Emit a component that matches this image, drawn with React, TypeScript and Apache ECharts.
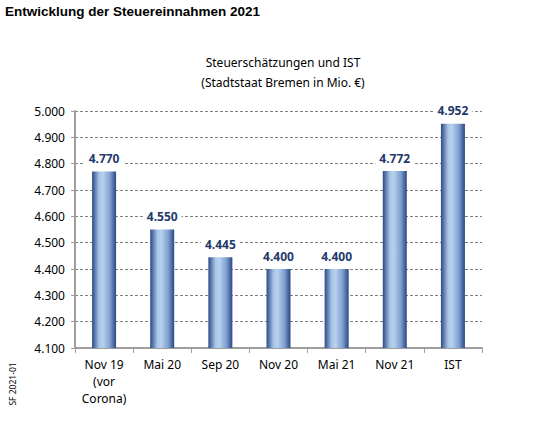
import React, { useEffect, useRef } from "react";
import * as echarts from "echarts";

const categories = ["Nov 19\n(vor\nCorona)", "Mai 20", "Sep 20", "Nov 20", "Mai 21", "Nov 21", "IST"];
const values = [4770, 4550, 4445, 4400, 4400, 4772, 4952];

const fmt = (n: number) => {
  const s = String(Math.round(n));
  return s.length > 3 ? s.slice(0, s.length - 3) + "." + s.slice(-3) : s;
};

const App: React.FC = () => {
  const chartRef = useRef<HTMLDivElement | null>(null);

  useEffect(() => {
    if (!chartRef.current) return;
    const chart = echarts.init(chartRef.current, null, { renderer: "svg" });

    const option = {
      animation: false,
      backgroundColor: "#ffffff",
      title: [
        {
          text: "Entwicklung der Steuereinnahmen 2021",
          left: 5,
          top: 4,
          padding: 0,
          textStyle: {
            fontFamily: "Liberation Sans, Arial, sans-serif",
            fontSize: 13.5,
            fontWeight: "bold",
            color: "#000",
          },
        },
        {
          text: "Steuerschätzungen und IST\n(Stadtstaat Bremen in Mio. €)",
          left: 278,
          top: 47,
          textAlign: "center",
          textStyle: {
            fontFamily: "Noto Sans, sans-serif",
            fontSize: 12,
            fontWeight: "normal",
            color: "#000",
            lineHeight: 20,
          },
        },
      ],
      graphic: [
        {
          type: "text",
          x: 12,
          y: 384,
          rotation: Math.PI / 2,
          style: {
            text: "SF 2021-01",
            fontFamily: "Noto Sans, sans-serif",
            fontSize: 8.5,
            fill: "#000",
            textAlign: "center",
            textVerticalAlign: "middle",
          },
        },
      ],
      grid: {
        left: 75,
        right: 67,
        top: 111,
        bottom: 75,
        containLabel: false,
      },
      xAxis: {
        type: "category",
        data: categories,
        axisLine: { lineStyle: { color: "#9e9e9e", width: 2 } },
        axisTick: { show: true, length: 5, lineStyle: { color: "#9e9e9e" } },
        axisLabel: {
          fontFamily: "Noto Sans, sans-serif",
          fontSize: 12,
          color: "#000",
          margin: 8,
          lineHeight: 17,
        },
      },
      yAxis: {
        type: "value",
        min: 4100,
        max: 5000,
        interval: 100,
        axisLine: { show: true, lineStyle: { color: "#9e9e9e", width: 2 } },
        axisTick: { show: true, length: 4, lineStyle: { color: "#9e9e9e" } },
        axisLabel: {
          fontFamily: "Noto Sans, sans-serif",
          fontSize: 12,
          color: "#000",
          margin: 10,
          formatter: (v: number) => fmt(v),
        },
        splitLine: {
          lineStyle: { color: "#7f7f7f", type: [3, 2], width: 1 },
        },
      },
      series: [
        {
          type: "bar",
          data: values,
          barWidth: 24,
          itemStyle: {
            color: new echarts.graphic.LinearGradient(0, 0, 1, 0, [
              { offset: 0, color: "#2b4a85" },
              { offset: 0.3, color: "#a9c6e8" },
              { offset: 0.45, color: "#b7d1ee" },
              { offset: 0.75, color: "#7f9fcf" },
              { offset: 1, color: "#2a4783" },
            ]),
          },
          label: {
            show: true,
            position: "top",
            distance: 6,
            formatter: (p: any) => fmt(p.value),
            fontFamily: "Noto Sans, sans-serif",
            fontSize: 12,
            fontWeight: "bold",
            color: "#1f3a6b",
            backgroundColor: "#ffffff",
            padding: [1, 4],
          },
        },
      ],
    };

    chart.setOption(option);
    const handleResize = () => chart.resize();
    window.addEventListener("resize", handleResize);
    return () => {
      window.removeEventListener("resize", handleResize);
      chart.dispose();
    };
  }, []);

  return (
    <div
      ref={chartRef}
      style={{ position: "fixed", left: 0, top: 0, width: 549, height: 423 }}
    />
  );
};

export default App;
